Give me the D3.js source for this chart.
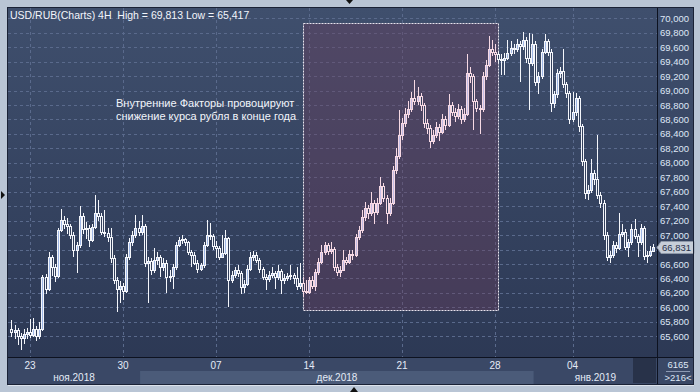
<!DOCTYPE html>
<html>
<head>
<meta charset="utf-8">
<script src="https://cdn.jsdelivr.net/npm/d3@7"></script>
<style>
  body { margin: 0; background: #b9c5d5; }
  svg { display: block; font-family: "Liberation Sans", Arial, sans-serif; }
</style>
</head>
<body>
<div id="chart"></div>
<script>
// USD/RUB 4H candles, 22 Nov 2018 .. 04 Jan 2019
var open = [
  65700,65660,65690,65600,65580,65630,65660,65620,65700,65600,
  65700,66420,66260,66700,66560,66430,67070,67210,67150,67130,
  67000,66790,66860,67260,67080,67100,66930,67110,67300,67270,
  67040,67030,66970,66680,66380,66250,66300,66230,66700,66900,
  67000,67100,67050,67120,66610,66640,66520,66650,66700,66560,
  66610,66420,66440,66560,66870,66930,66950,66900,66760,66730,
  66620,66530,66580,66860,67000,66990,66850,66820,66700,66750,
  66960,66380,66450,66520,66480,66280,66330,66530,66700,66720,
  66660,66530,66420,66390,66450,66470,66420,66500,66380,66410,
  66430,66450,66400,66290,66340,66230,66210,66380,66300,66490,
  66630,66760,66860,66780,66810,66560,66490,66520,66650,66630,
  66740,66720,66970,67070,67250,67380,67300,67450,67320,67450,
  67680,67520,67300,67450,67900,68100,68380,68550,68680,68750,
  68900,68850,68920,68800,68550,68480,68300,68380,68500,68420,
  68600,68530,68800,68700,68650,68750,68600,68680,69250,69200,
  68850,68760,68740,69200,69350,69580,69540,69500,69430,69420,
  69450,69520,69590,69570,69650,69620,69700,69450,69380,69650,
  69120,69200,69540,69690,69540,68830,68950,69250,69270,69090,
  68970,68600,68700,68900,68510,68030,67580,67620,67860,67780,
  67560,67450,67000,66700,66720,66870,66820,67010,67050,66830,
  66900,67080,66990,66900,67100,66710,66730,66780
];
var high = [
  65820,65760,65720,65650,65700,65720,65840,65860,65740,65800,
  66450,66460,66760,66720,66600,67100,67360,67260,67230,67160,
  67040,66900,67400,67300,67180,67140,67160,67560,67490,67300,
  67350,67100,67100,66720,66420,66360,66340,66740,66960,67060,
  67280,67200,67280,67150,66700,66690,66820,66760,66730,66680,
  66650,66520,66600,66900,66980,67000,66960,66920,66800,66760,
  66650,66620,66900,67210,67170,67010,66920,66850,67000,67070,
  66980,66500,66560,66580,66500,66380,66580,66760,66780,66760,
  66690,66560,66460,66500,66560,66500,66580,66530,66460,66480,
  66580,66480,66560,66620,66420,66380,66420,66430,66530,66680,
  66860,66900,66890,66900,66840,66600,66570,66800,66700,66790,
  66790,67010,67120,67350,67460,67420,67600,67480,67520,67800,
  67720,67560,67520,67950,68200,68730,68620,68760,68850,68980,
  69150,69050,68960,68830,68600,68520,68450,68560,68540,68680,
  68650,68950,68840,68760,68820,68780,68760,69500,69320,69230,
  68880,68800,69260,69420,69760,69700,69640,69530,69500,69520,
  69700,69680,69640,69720,69690,69813,69740,69790,69780,69690,
  69260,69580,69780,69720,69580,69000,69300,69330,69570,69120,
  69000,68980,68960,68930,68540,68060,67700,68060,67900,68380,
  67600,67480,67040,66780,66920,66900,67300,67160,67080,66950,
  67160,67220,67020,67160,67130,66780,66850,66880
];
var low = [
  65590,65560,65480,65417,65500,65560,65580,65590,65540,65560,
  65680,66180,66220,66440,66350,66400,67040,67080,67020,66950,
  66700,66470,66820,67020,66950,66840,66900,67080,67200,67000,
  66980,66900,66620,66320,65940,66060,66100,66200,66660,66850,
  66960,66990,67000,66560,66060,66450,66480,66580,66420,66500,
  66200,66350,66250,66520,66830,66880,66850,66720,66560,66580,
  66480,66500,66550,66840,66930,66800,66680,66650,66680,66720,
  66000,66340,66400,66420,66180,66200,66300,66500,66640,66610,
  66480,66380,66240,66350,66400,66250,66380,66180,66330,66360,
  66380,66320,66240,66260,66150,66190,66180,66250,66220,66450,
  66600,66720,66730,66740,66500,66440,66420,66500,66580,66600,
  66660,66700,66930,67030,67200,67220,67260,67150,67280,67420,
  67460,67150,67260,67420,67850,68050,68320,68500,68620,68700,
  68800,68800,68720,68480,68400,68200,68260,68340,68300,68400,
  68450,68500,68650,68560,68600,68540,68560,68650,69100,68450,
  68700,68400,68700,69150,69320,69480,69400,69380,69220,69220,
  69420,69480,69500,69540,69120,69560,69380,68730,69340,69060,
  68950,69160,69500,69480,68700,68760,68900,69180,69040,68900,
  68540,68560,68650,68420,67960,67500,67480,67580,67700,67500,
  67380,66930,66640,66620,66690,66750,66790,66980,66790,66700,
  66860,66950,66700,66870,66660,66620,66700,66760
];
var close = [
  65660,65690,65600,65580,65630,65660,65620,65700,65600,65700,
  66420,66260,66700,66560,66430,67070,67210,67150,67130,67000,
  66790,66860,67260,67080,67100,66930,67110,67300,67270,67040,
  67030,66970,66680,66380,66250,66300,66230,66700,66900,67000,
  67100,67050,67120,66610,66640,66520,66650,66700,66560,66610,
  66420,66440,66560,66870,66930,66950,66900,66760,66730,66620,
  66530,66580,66860,67000,66990,66850,66820,66700,66750,66960,
  66380,66450,66520,66480,66280,66330,66530,66700,66720,66660,
  66530,66420,66390,66450,66470,66420,66500,66380,66410,66430,
  66450,66400,66290,66340,66230,66210,66380,66300,66490,66630,
  66760,66860,66780,66810,66560,66490,66520,66650,66630,66740,
  66720,66970,67070,67250,67380,67300,67450,67320,67450,67680,
  67520,67300,67450,67900,68100,68380,68550,68680,68750,68900,
  68850,68920,68800,68550,68480,68300,68380,68500,68420,68600,
  68530,68800,68700,68650,68750,68600,68680,69250,69200,68850,
  68760,68740,69200,69350,69580,69540,69500,69430,69420,69450,
  69520,69590,69570,69650,69620,69700,69450,69380,69650,69120,
  69200,69540,69690,69540,68830,68950,69250,69270,69090,68970,
  68600,68700,68900,68510,68030,67580,67620,67860,67780,67560,
  67450,67000,66700,66720,66870,66820,67010,67050,66830,66900,
  67080,66990,66900,67100,66710,66730,66780,66831
];

// date ticks (candle index of each label) and month bands
var dayTickIndex = [6, 36, 66, 96, 126, 156, 181];
var dayTickLabels = ["23", "30", "07", "14", "21", "28", "04"];
var monthStartIndex = [0, 42, 169];
var monthLabels = ["ноя.2018", "дек.2018", "янв.2019"];

var priceTicks = d3.range(65600, 70001, 200);

// highlighted period: candle index from/to and price range
var highlightFrom = 94, highlightTo = 157;
var highlightTop = 69930, highlightBottom = 65960;
var noteLines = ["Внутренние Факторы провоцируют", "снижение курса рубля в конце года"];

var titleText = "USD/RUB(Charts) 4H  High = 69,813 Low = 65,417";
var lastPrice = 66831;
var footTop = "6165", footBottom = ">216<";

var W = 700, H = 392;
var plot = {left: 8, right: 657, top: 8, bottom: 357};
var axisRight = 693, axisBottom = 384;

var svg = d3.select("#chart").append("svg")
  .attr("width", W)
  .attr("height", H);

var defs = svg.append("defs");
var grad = defs.append("linearGradient").attr("id", "bg")
  .attr("x1", 0).attr("y1", 0).attr("x2", 0).attr("y2", 1);
grad.append("stop").attr("offset", "0%").attr("stop-color", "#3f4f6d");
grad.append("stop").attr("offset", "100%").attr("stop-color", "#2b3753");

// scales
var x = d3.scaleLinear().domain([0, close.length - 1]).range([11.4, 653.1]);
var y = d3.scaleLinear().domain([65600, 70000]).range([336.3, 18.3]);
var fmt = d3.format(",");

// frame background
svg.append("rect")
  .attr("x", plot.left).attr("y", plot.top)
  .attr("width", axisRight - plot.left).attr("height", axisBottom - plot.top)
  .attr("fill", "url(#bg)");

// bottom axis background + month bands
svg.append("rect")
  .attr("x", plot.left).attr("y", plot.bottom)
  .attr("width", axisRight - plot.left).attr("height", axisBottom - plot.bottom)
  .attr("fill", "#3a4866");

var monthEdges = monthStartIndex.map(function(d, i) { return i === 0 ? plot.left : x(d) - 1.5; });
monthEdges.push(plot.right);
svg.append("g").selectAll("rect")
  .data(monthLabels)
  .enter().append("rect")
  .attr("x", function(d, i) { return monthEdges[i]; })
  .attr("y", 371)
  .attr("width", function(d, i) { return monthEdges[i + 1] - monthEdges[i]; })
  .attr("height", axisBottom - 371)
  .attr("fill", function(d, i) { return i % 2 ? "#4b5b79" : "#3a4866"; });

svg.append("g").selectAll("text")
  .data(monthLabels)
  .enter().append("text")
  .attr("x", function(d, i) { return (monthEdges[i] + monthEdges[i + 1]) / 2; })
  .attr("y", 381)
  .attr("text-anchor", "middle")
  .attr("font-size", 10)
  .attr("fill", "#e4ebf7")
  .text(function(d) { return d; });

// scroll thumb in the corner
svg.append("rect")
  .attr("x", 633).attr("y", 358).attr("width", 23).attr("height", 25)
  .attr("fill", "#283249");

// grid
var grid = svg.append("g").attr("stroke", "#5a6a8c").attr("stroke-dasharray", "3,3").attr("stroke-width", 1);
grid.selectAll(".h").data(priceTicks).enter().append("line")
  .attr("x1", plot.left).attr("x2", plot.right)
  .attr("y1", function(d) { return Math.round(y(d)) + 0.5; })
  .attr("y2", function(d) { return Math.round(y(d)) + 0.5; });
grid.selectAll(".v").data(dayTickIndex).enter().append("line")
  .attr("y1", plot.top).attr("y2", plot.bottom)
  .attr("x1", function(d) { return Math.round(x(d)) + 0.5; })
  .attr("x2", function(d) { return Math.round(x(d)) + 0.5; });

// highlight box
svg.append("rect")
  .attr("x", Math.round(x(highlightFrom)) + 0.5)
  .attr("y", Math.round(y(highlightTop)) + 0.5)
  .attr("width", Math.round(x(highlightTo)) - Math.round(x(highlightFrom)))
  .attr("height", Math.round(y(highlightBottom)) - Math.round(y(highlightTop)))
  .attr("fill", "rgba(112,62,92,0.36)")
  .attr("stroke", "#e8e4ee")
  .attr("stroke-dasharray", "2,1");

// candles
var candles = svg.append("g").attr("shape-rendering", "crispEdges");
close.forEach(function(c, i) {
  var o = open[i];
  var inside = i >= highlightFrom && i < highlightTo;
  var col = inside ? "#f7d9e4" : "#f4f6fb";
  var upFill = inside ? "#c3bde6" : "#9fb7e6";
  var cx = Math.round(x(i));
  candles.append("line")
    .attr("x1", cx + 0.5).attr("x2", cx + 0.5)
    .attr("y1", y(high[i])).attr("y2", y(low[i]))
    .attr("stroke", col);
  var yt = Math.round(y(Math.max(o, c))), yb = Math.round(y(Math.min(o, c)));
  candles.append("rect")
    .attr("x", cx - 1 + 0.5).attr("y", yt + 0.5)
    .attr("width", 2).attr("height", Math.max(1, yb - yt))
    .attr("fill", c >= o ? upFill : "#33405c")
    .attr("stroke", col);
});

// note text
svg.append("g").selectAll("text")
  .data(noteLines)
  .enter().append("text")
  .attr("x", 116)
  .attr("y", function(d, i) { return 107 + i * 13; })
  .attr("font-size", 11)
  .attr("fill", "#f2f5fb")
  .text(function(d) { return d; });

// title
svg.append("text")
  .attr("x", 10).attr("y", 19)
  .attr("font-size", 10.5)
  .attr("fill", "#f2f5fb")
  .attr("xml:space", "preserve")
  .text(titleText);

// axis lines
svg.append("line")
  .attr("x1", plot.right + 0.5).attr("x2", plot.right + 0.5)
  .attr("y1", plot.top).attr("y2", axisBottom)
  .attr("stroke", "#0d1220");
svg.append("line")
  .attr("x1", plot.left).attr("x2", axisRight)
  .attr("y1", plot.bottom + 0.5).attr("y2", plot.bottom + 0.5)
  .attr("stroke", "#0d1220");

// price axis labels (the one under the last-price marker is hidden)
var ly = Math.round(y(lastPrice));
svg.append("g").selectAll("text")
  .data(priceTicks.filter(function(d) { return Math.abs(y(d) - ly) > 11; }))
  .enter().append("text")
  .attr("x", 660)
  .attr("y", function(d) { return y(d) + 3.5; })
  .attr("font-size", 9.5)
  .attr("fill", "#dfe7f6")
  .text(function(d) { return fmt(d); });

// date labels
svg.append("g").selectAll("text")
  .data(dayTickIndex)
  .enter().append("text")
  .attr("x", function(d) { return x(d); })
  .attr("y", 369)
  .attr("text-anchor", "middle")
  .attr("font-size", 10)
  .attr("fill", "#e4ebf7")
  .text(function(d, i) { return dayTickLabels[i]; });

// last price marker
svg.append("path")
  .attr("d", "M657," + (ly + 0.5) + "L661," + (ly - 5.5) + "L694," + (ly - 5.5) + "L694," + (ly + 6.5) + "L661," + (ly + 6.5) + "Z")
  .attr("fill", "#c6cdd8")
  .attr("stroke", "#8d97a8");
svg.append("text")
  .attr("x", 662).attr("y", ly + 4)
  .attr("font-size", 9.5)
  .attr("fill", "#26304a")
  .text(fmt(lastPrice));

// corner counter box
svg.append("text").attr("x", 678).attr("y", 368).attr("text-anchor", "middle")
  .attr("font-size", 9.5).attr("fill", "#dfe7f6").text(footTop);
svg.append("line").attr("x1", 666).attr("x2", 690).attr("y1", 371.5).attr("y2", 371.5)
  .attr("stroke", "#8d9ab3");
svg.append("text").attr("x", 678).attr("y", 381).attr("text-anchor", "middle")
  .attr("font-size", 9.5).attr("fill", "#dfe7f6").text(footBottom);

// frame edge and little arrows on the light border
svg.append("rect")
  .attr("x", plot.left - 0.5).attr("y", plot.top - 0.5)
  .attr("width", axisRight - plot.left + 1).attr("height", axisBottom - plot.top + 1)
  .attr("fill", "none").attr("stroke", "#1a2236");
svg.append("line").attr("x1", plot.left).attr("x2", axisRight + 1)
  .attr("y1", axisBottom + 1.5).attr("y2", axisBottom + 1.5).attr("stroke", "#dde3ec");
svg.append("path").attr("d", "M346,0L353,0L349.5,4Z").attr("fill", "#111");
svg.append("path").attr("d", "M350,392L358,392L354,387Z").attr("fill", "#111");
svg.append("path").attr("d", "M1,191L5,195L1,199Z").attr("fill", "#111");
</script>
</body>
</html>
